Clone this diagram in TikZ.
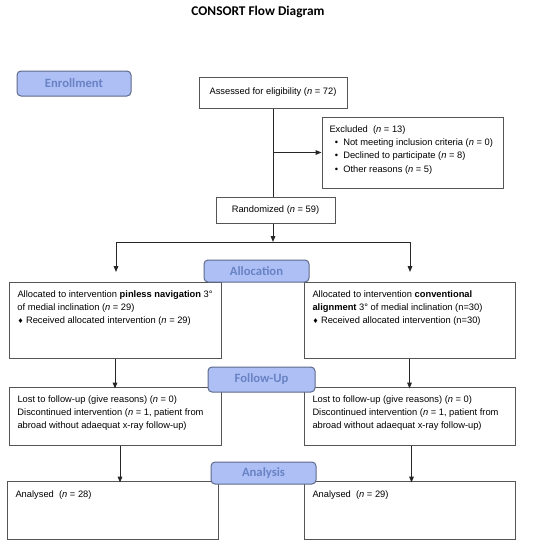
\documentclass[tikz,border=0pt]{standalone}
\usepackage{fontspec}
\setmainfont{Liberation Sans}
\newfontfamily\headfont{Carlito}
\newfontfamily\symfont{DejaVu Sans}
\usetikzlibrary{arrows.meta}

\definecolor{stagefill}{RGB}{173,191,245}
\definecolor{stagedraw}{RGB}{94,106,138}
\definecolor{stagetext}{RGB}{104,130,196}
\definecolor{boxdraw}{RGB}{85,85,85}

\tikzset{every picture/.style={line width=0.75pt}}
\tikzset{
  box/.style={draw=boxdraw, inner sep=0pt},
  stage/.style={draw=stagedraw, fill=stagefill, rounded corners=3pt, inner sep=0pt,
    font=\headfont\bfseries\fontsize{9.5}{11}\selectfont, text=stagetext},
  txt/.style={anchor=north west, inner sep=0pt, align=left,
    font=\fontsize{7}{10}\selectfont},
  arr/.style={draw=black!85, -{Triangle[length=4.5pt,width=3.5pt]}},
  ln/.style={draw=black!85}
}
\newcommand{\dmd}{{\symfont\fontsize{5}{5}\selectfont ♦}}
\newcommand{\nn}{\textit{n}}

\begin{document}
\begin{tikzpicture}[x=0.75pt,y=0.75pt,yscale=-1,xscale=1]
\useasboundingbox (0,0) rectangle (550,547);
% Title
\node (title) at (258,12) [font=\headfont\bfseries\fontsize{10}{12}\selectfont] {CONSORT Flow Diagram};
%Rounded Rect: stages
\node (enrol) at (74,83.5) [stage, minimum width=114*0.75pt, minimum height=25*0.75pt] {Enrollment};
%Shape: Rectangle
\node (assess) at (273,92.5) [box, minimum width=148*0.75pt, minimum height=31*0.75pt, font=\fontsize{7}{10}\selectfont] {Assessed for eligibility (\nn{} = 72)};
\node (excl) at (412.5,152.5) [box, minimum width=181*0.75pt, minimum height=71*0.75pt] {};
\node (rand) at (275.5,210) [box, minimum width=119*0.75pt, minimum height=26*0.75pt, font=\fontsize{7}{10}\selectfont] {Randomized (\nn{} = 59)};
\node (allocL) at (115,320) [box, minimum width=212*0.75pt, minimum height=76*0.75pt] {};
\node (allocR) at (409.5,320) [box, minimum width=211*0.75pt, minimum height=76*0.75pt] {};
\node (followL) at (115,416) [box, minimum width=212*0.75pt, minimum height=58*0.75pt] {};
\node (followR) at (409.5,416) [box, minimum width=211*0.75pt, minimum height=58*0.75pt] {};
\node (anaL) at (112.5,510) [box, minimum width=211*0.75pt, minimum height=58*0.75pt] {};
\node (anaR) at (409.5,510) [box, minimum width=211*0.75pt, minimum height=58*0.75pt] {};
% Text Node
\node (exclT) at (329,125) [txt] {Excluded\ \ (\nn{} = 13)\\
\hspace*{4pt}•\ \ Not meeting inclusion criteria (\nn{} = 0)\\
\hspace*{4pt}•\ \ Declined to participate (\nn{} = 8)\\
\hspace*{4pt}•\ \ Other reasons (\nn{} = 5)};
% Text Node
\node (allocLT) at (17,290) [txt] {Allocated to intervention \textbf{pinless navigation} 3°\\
of medial inclination (\nn{} = 29)\\
\dmd\ Received allocated intervention (\nn{} = 29)};
% Text Node
\node (allocRT) at (312,290) [txt] {Allocated to intervention \textbf{conventional}\\
\textbf{alignment} 3° of medial inclination (n=30)\\
\dmd\ Received allocated intervention (n=30)};
% Text Node
\node (followLT) at (17,395) [txt] {Lost to follow-up (give reasons) (\nn{} = 0)\\
Discontinued intervention (\nn{} = 1, patient from\\
abroad without adaequat x-ray follow-up)};
% Text Node
\node (followRT) at (312,395) [txt] {Lost to follow-up (give reasons) (\nn{} = 0)\\
Discontinued intervention (\nn{} = 1, patient from\\
abroad without adaequat x-ray follow-up)};
% Text Node
\node (anaLT) at (15,490) [txt] {Analysed\ \ (\nn{} = 28)};
% Text Node
\node (anaRT) at (312,490) [txt] {Analysed\ \ (\nn{} = 29)};
%Straight Lines
\coordinate (split) at (273,242);
\coordinate (splitL) at (116,242);
\coordinate (splitR) at (410,242);
\coordinate (tipL) at (116,272);
\coordinate (tipR) at (410,272);
\draw [ln] (assess.south) -- (assess.south |- rand.north);
\draw [arr] (assess.south |- excl.west) -- (excl.west);
\draw [arr] (rand.south -| split) -- (split);
\draw [ln] (splitL) -- (splitR);
\draw [arr] (splitL) -- (tipL);
\draw [arr] (splitR) -- (tipR);
\draw [arr] (allocL.south) -- ([yshift=2*0.75pt]allocL.south |- followL.north);
\draw [arr] (allocR.south) -- ([yshift=2*0.75pt]allocR.south |- followR.north);
\draw [arr] ([xshift=5*0.75pt]followL.south) -- ([xshift=5*0.75pt,yshift=2*0.75pt]followL.south |- anaL.north);
\draw [arr] ([xshift=2*0.75pt]followR.south) -- ([xshift=2*0.75pt,yshift=2*0.75pt]followR.south |- anaR.north);
%Rounded Rect: stages on top
\node (alloc) at (256.5,271) [stage, minimum width=105*0.75pt, minimum height=22*0.75pt] {Allocation};
\node (follow) at (261.5,379.5) [stage, minimum width=107*0.75pt, minimum height=25*0.75pt] {Follow-Up};
\node (analysis) at (263.5,473) [stage, minimum width=105*0.75pt, minimum height=22*0.75pt] {Analysis};
\end{tikzpicture}
\end{document}
